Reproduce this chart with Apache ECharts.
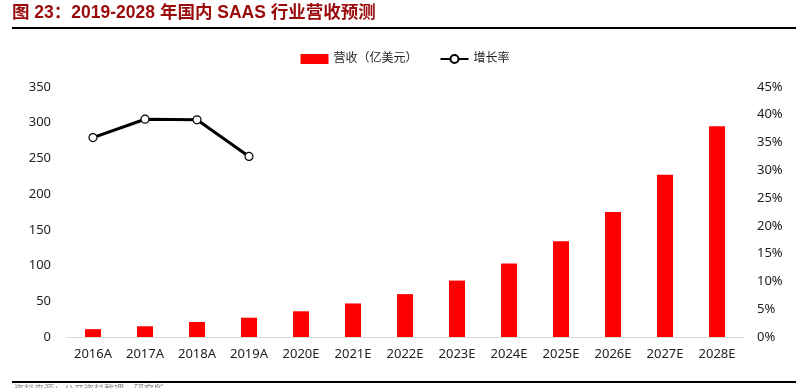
<!DOCTYPE html>
<html>
<head>
<meta charset="utf-8">
<script src="https://cdn.jsdelivr.net/npm/echarts@6/dist/echarts.min.js"></script>
<style>
html,body{margin:0;padding:0;background:#fff;}
#c{width:810px;height:388px;}
</style>
</head>
<body>
<div id="c"></div>
<script>
const categories = ['2016A','2017A','2018A','2019A','2020E','2021E','2022E','2023E','2024E','2025E','2026E','2027E','2028E'];
const revenue = [11, 15, 21, 27, 36, 47, 60, 79, 103, 134, 175, 227, 295];
const growth = [35.9, 39.2, 39.1, 32.5, null, null, null, null, null, null, null, null, null];
const leftTicks = [0, 350, 50];
const rightTicks = [0, 45, 5];

const FONT = '"Noto Sans", "Noto Sans CJK SC", sans-serif';
const TFONT = '"Liberation Sans", "Noto Sans CJK SC", sans-serif';
const chart = echarts.init(document.getElementById('c'), null, {renderer: 'canvas'});
chart.setOption({
  animation: false,
  textStyle: {fontFamily: FONT},
  graphic: [
    {type: 'text', left: 12, top: 4, style: {text: '图 23：2019-2028 年国内 SAAS 行业营收预测', fill: '#9a0a0a', font: 'bold 17.5px ' + TFONT}},
    {type: 'rect', shape: {x: 12, y: 27, width: 784, height: 2}, style: {fill: '#000'}},
    {type: 'rect', shape: {x: 12, y: 381, width: 784, height: 2}, style: {fill: '#000'}},
    {type: 'text', left: 14, top: 385, style: {text: '资料来源：公开资料整理，研究所', fill: '#888', font: '10px ' + FONT}}
  ],
  legend: {
    top: 48,
    left: 'center',
    itemGap: 22,
    itemWidth: 28,
    itemHeight: 10,
    textStyle: {fontSize: 12, color: '#222', fontFamily: FONT},
    data: [
      {name: '营收（亿美元）', icon: 'rect'},
      {name: '增长率'}
    ]
  },
  grid: {left: 67, right: 67, top: 87, bottom: 51},
  xAxis: {
    type: 'category',
    data: categories,
    axisLine: {lineStyle: {color: '#d9d9d9', width: 1}},
    axisTick: {show: false},
    axisLabel: {color: '#222', fontSize: 13, margin: 11, fontFamily: FONT}
  },
  yAxis: [
    {
      type: 'value', min: leftTicks[0], max: leftTicks[1], interval: leftTicks[2],
      splitLine: {show: false},
      axisLine: {show: false}, axisTick: {show: false},
      axisLabel: {color: '#222', fontSize: 13, margin: 16, fontFamily: FONT}
    },
    {
      type: 'value', min: rightTicks[0], max: rightTicks[1], interval: rightTicks[2],
      splitLine: {show: false},
      axisLine: {show: false}, axisTick: {show: false},
      axisLabel: {color: '#222', fontSize: 13, margin: 14, formatter: '{value}%', fontFamily: FONT}
    }
  ],
  series: [
    {
      name: '营收（亿美元）',
      type: 'bar',
      data: revenue,
      barWidth: 16,
      itemStyle: {color: '#ff0000'}
    },
    {
      name: '增长率',
      type: 'line',
      yAxisIndex: 1,
      data: growth,
      symbol: 'circle',
      symbolSize: 8,
      lineStyle: {color: '#000', width: 3},
      itemStyle: {color: '#fff', borderColor: '#000', borderWidth: 1.2}
    }
  ]
});
</script>
</body>
</html>
